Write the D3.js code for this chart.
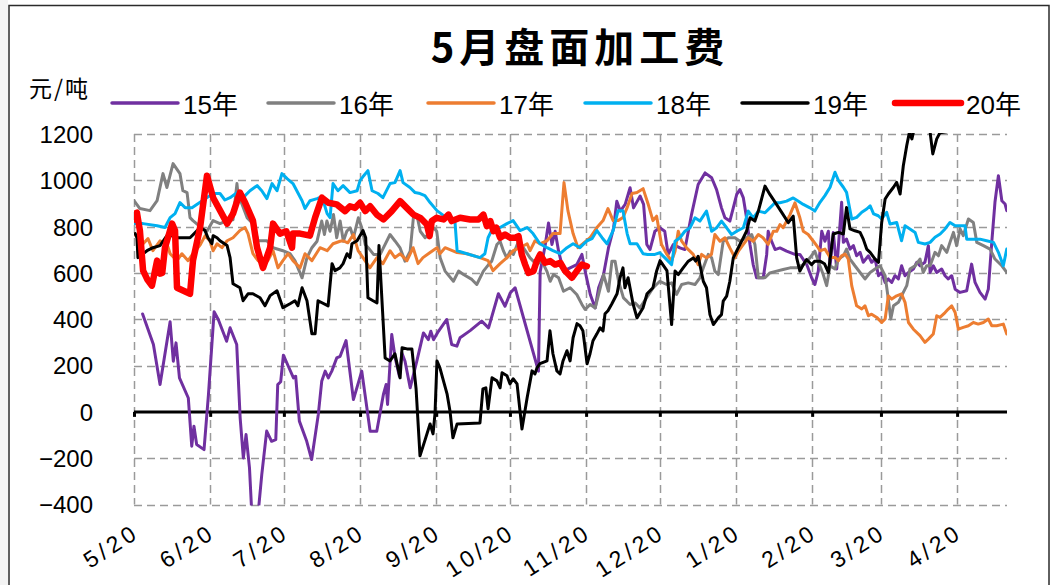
<!DOCTYPE html>
<html>
<head>
<meta charset="utf-8">
<script src="https://cdn.jsdelivr.net/npm/d3@7"></script>
<style>
  html, body { margin: 0; padding: 0; background: #fff; }
  svg { display: block; }
  text { font-family: "Liberation Sans", "Noto Sans CJK SC", sans-serif; fill: #000; }
</style>
</head>
<body>
<svg id="chart" width="1051" height="585"></svg>
<script>
// 5月合约盘面加工费（元/吨），按年度对比；横轴为距 5/20 的天数
const seriesNames = ["15年", "16年", "17年", "18年", "19年", "20年"];
const seriesColors = ["#7030A0", "#808080", "#ED7D31", "#00B0F0", "#000000", "#FF0000"];
const seriesWidths = [3, 3, 3, 3, 3, 6.5];
const xTickLabels = ["5/20", "6/20", "7/20", "8/20", "9/20", "10/20", "11/20", "12/20", "1/20", "2/20", "3/20", "4/20"];
const yTicks = [-400, -200, 0, 200, 400, 600, 800, 1000, 1200];

const s15 = [[3.5,423],[7.9,291],[10.6,118],[14.7,389],[16,219],[17.1,298],[18.5,147],[22.1,60],[23.5,-148],[24.4,-62],[25.5,-141],[28.5,-163],[30.3,75],[32.6,432],[34.3,399],[37.7,305],[39.1,363],[41.8,291],[43.2,-26],[44.5,-199],[45.6,-98],[47,-242],[47.9,-430],[50.6,-430],[52,-271],[54,-83],[56,-127],[57.7,-120],[58.5,118],[59.7,130],[60.8,245],[62.8,197],[64.9,147],[65.8,154],[67.3,-40],[70.3,-127],[72.3,-206],[75,-12],[76.4,132],[77.8,176],[79.1,147],[80.5,176],[82.5,233],[83.9,240],[86.3,308],[89.3,53],[92.7,176],[96.1,-84],[98.8,-84],[101.5,75],[102.6,118],[103.2,32],[104.9,334],[106.3,233],[108,154],[109,255],[110.3,219],[112.4,104],[115.1,219],[117.8,341],[119.8,312],[120.8,348],[121.9,312],[123.9,348],[127.3,399],[129.3,291],[131.4,284],[132.7,320],[136.8,351],[141.5,392],[144.3,363],[148.3,510],[151,456],[153.1,513],[155.1,536],[164.6,176],[165.3,605],[167.3,716],[168.7,816],[170.1,723],[171.4,780],[172.8,694],[174.8,608],[177.5,622],[180.2,636],[182.3,680],[183.6,608],[185.7,507],[187.7,449],[189.1,536],[191.1,593],[193.1,708],[195.2,795],[196.5,910],[197.9,867],[199.9,896],[201.9,968],[203.3,881],[206,932],[207.4,896],[208.7,723],[210,701],[212,780],[214,795],[216,780],[217.4,680],[219.5,723],[222.2,708],[224.2,701],[226.9,852],[229.6,982],[232.4,1032],[235.1,1011],[237.1,960],[239.1,881],[240.5,838],[242.5,824],[243.9,881],[245.3,939],[246.6,960],[248,924],[249.3,838],[250.7,723],[252,636],[253.4,579],[256.1,579],[257.5,680],[258.1,780],[259.5,737],[260.9,701],[262.9,708],[265.6,694],[269,680],[271,680],[273.8,636],[275.8,579],[277.1,550],[278.5,608],[279.9,780],[281.2,737],[282.6,780],[283.3,631],[284.6,775],[286,617],[288,905],[288.7,732],[290,746],[291.4,703],[292.8,718],[294.1,674],[295.5,689],[296.8,646],[298.9,674],[300.2,646],[301.6,660],[303,588],[304.3,602],[305.7,559],[307,574],[308.4,559],[309.7,588],[311.1,574],[312.4,631],[313.8,588],[315.2,602],[317.2,617],[318.6,646],[319.9,631],[321.9,646],[323.3,718],[324,602],[325.3,631],[326.7,602],[328.7,617],[330.1,588],[331.4,574],[332.8,588],[334.2,530],[336.2,516],[338.9,523],[340.9,638],[342.3,559],[344.3,516],[346.4,487],[347.7,530],[349.1,732],[350.4,905],[351.8,1020],[353.2,912],[354.5,898],[355.2,869]];

const s16 = [[0,912],[2.4,878],[6.5,869],[9.4,912],[11.8,1029],[13.4,969],[15.9,1072],[18.7,1029],[19.9,955],[21.6,947],[22.8,839],[24,826],[26.9,800],[29.7,780],[32.2,826],[35,813],[37.9,826],[40.3,830],[41.9,986],[42.3,943],[46,839],[48.4,813],[50.5,739],[54.1,739],[56.6,709],[60.6,696],[63.5,683],[65.5,653],[68.4,579],[70.4,666],[72.4,709],[74.5,737],[76.4,824],[77.5,766],[78.5,824],[79.8,780],[81.2,852],[82.5,752],[83.9,824],[85.2,737],[86.6,780],[88,795],[89.3,752],[91.3,838],[92.7,795],[94.1,723],[95.4,708],[97.5,680],[100.2,680],[101.5,708],[104.2,766],[106.3,737],[108.3,708],[110.3,651],[112.4,694],[113.7,838],[115.1,852],[116.5,780],[118.5,752],[121.9,795],[123.2,780],[124.6,665],[126.6,608],[130,564],[132.1,608],[134.1,593],[137.5,572],[139.5,550],[142.2,608],[144.3,636],[145.6,651],[147.7,723],[149,737],[150.4,694],[151.7,665],[153.1,694],[154.4,680],[156.5,737],[158.5,708],[161.2,665],[163.9,636],[166,651],[168,608],[169.4,564],[170.7,593],[172.8,579],[174.8,521],[177.5,536],[180.2,507],[182.3,464],[183.6,442],[185.7,464],[187.7,449],[189.1,507],[191.1,593],[193.1,521],[194.5,651],[195.8,651],[197.2,564],[199.2,492],[200.6,478],[201.9,464],[204,470],[205.9,449],[208.6,492],[211.3,536],[214,564],[216.8,550],[218.8,557],[220.8,507],[222.9,550],[225.6,557],[228.3,550],[230.3,579],[231.7,622],[233.7,680],[235.1,665],[236.4,608],[237.8,593],[239.8,737],[241.9,752],[244.6,752],[246.6,737],[249.3,752],[251.4,766],[252.7,723],[254.1,579],[256.8,579],[258.8,600],[261.5,608],[264.2,615],[267,622],[269.7,622],[272.4,636],[275.1,665],[277.1,694],[279.2,630],[280.5,593],[281.9,545],[283.3,631],[285.3,617],[286.7,660],[288.7,674],[290,703],[291.4,660],[293.4,631],[295.5,602],[297.5,574],[299.6,602],[301.6,617],[303.6,631],[305.7,588],[307,487],[308,401],[309.1,458],[311.1,473],[313.1,516],[314.5,545],[315.8,617],[317.9,631],[319.9,660],[321.2,602],[322.6,631],[324,631],[326,689],[327.4,674],[328.7,718],[330.8,689],[332.1,732],[333.5,775],[334.8,718],[336.2,790],[337.5,761],[339.6,833],[341.6,818],[343,732],[345.7,718],[348.4,703],[350.4,660],[353.2,631],[355.2,602]];

const s17 = [[0,770],[3.7,726],[5.7,748],[7.7,696],[10.6,739],[13.4,726],[14.7,683],[17.5,653],[19.5,683],[22,653],[24,683],[26.9,720],[28.9,760],[30.9,739],[32.2,696],[33.8,726],[35.8,709],[37.9,739],[40.3,752],[43.1,783],[45.2,796],[46.4,770],[48.4,683],[50.5,653],[52.5,640],[54.5,653],[56.6,696],[58.6,622],[60.6,653],[62.7,683],[64.7,653],[67.6,622],[69.6,683],[72.4,653],[75.7,709],[78.6,696],[81,726],[83.9,737],[85.1,739],[87,730],[89.3,766],[91.2,696],[93.2,666],[96,622],[98.9,666],[101.3,640],[104.2,696],[106.2,666],[108.3,683],[111.1,653],[113.6,709],[115.6,640],[117.6,666],[120.5,688],[123.3,709],[124.5,683],[126.6,709],[131.5,688],[135.5,683],[140.8,666],[144.1,653],[146.1,610],[149,640],[151.8,666],[154.3,696],[157.1,709],[160,726],[161.2,696],[163.2,739],[165.2,726],[168.1,739],[170.5,770],[173.4,770],[175,990],[176.6,869],[178.7,770],[180.7,709],[182.7,726],[185.6,752],[188.4,796],[190.9,826],[192.9,878],[195,826],[197,826],[199,839],[200.7,882],[202.7,943],[204.7,947],[207.2,964],[209.2,899],[211.2,826],[212.7,845],[214.7,723],[216.9,680],[218.8,651],[220.2,694],[221.5,780],[222.9,737],[224.9,708],[227.6,680],[229.6,636],[231,680],[233,665],[235,680],[236.4,766],[238.5,737],[240.5,752],[242.5,708],[244.6,665],[246,694],[248,723],[250,752],[252,737],[254.1,766],[256,752],[258.1,723],[260.2,780],[261.6,780],[262.9,809],[264.2,795],[265.6,824],[267,852],[269,903],[271,838],[272.4,780],[274.4,766],[276.5,737],[278.5,708],[279.2,696],[281.2,703],[283.3,667],[285.3,667],[286.7,653],[288,674],[289.4,682],[290.7,660],[292.1,545],[294.1,458],[296.2,444],[297.5,458],[298.9,415],[300.2,422],[302.3,408],[304.3,386],[305.7,401],[307,501],[308.4,487],[310.4,501],[312.4,509],[313.8,473],[315.2,386],[317.2,357],[319.9,329],[321.9,300],[323.3,314],[325.3,336],[326.7,415],[328,408],[330.1,429],[331.4,444],[332.8,458],[334.2,429],[335.5,357],[337.5,365],[339.6,372],[341.6,386],[343.6,379],[345.7,386],[347.7,401],[349.1,372],[351.1,372],[353.8,379],[355.2,336]];

const s18 = [[0,813],[3.7,813],[9.4,804],[12.6,796],[14.7,839],[16.7,856],[18.7,904],[20.8,882],[23.6,882],[26,899],[29,920],[32.2,943],[35,943],[37,915],[39.1,925],[41.9,947],[44.4,925],[47.2,955],[50.1,977],[52,955],[54.1,921],[56.2,986],[58.2,955],[60.2,1029],[62.3,1007],[64.7,986],[68.4,912],[69.6,878],[71.6,912],[74.5,921],[76.5,930],[78.6,856],[79.8,839],[81,986],[83,955],[85.1,977],[87.9,947],[90.8,955],[92,999],[93.5,1020],[95.2,1042],[96.9,955],[99.3,943],[101.3,925],[104.2,986],[106.2,990],[108.3,1042],[109.5,990],[112.3,969],[114.4,947],[116.4,943],[118.4,934],[120.5,904],[123.3,869],[127,840],[130.6,826],[131.5,696],[135.5,683],[140.8,666],[142.8,683],[144.1,752],[146.1,796],[149,796],[151.8,813],[154.3,826],[157.1,783],[160,796],[162.4,770],[165.2,726],[168.1,709],[170.5,696],[173.4,683],[176.2,709],[178.7,726],[181.5,709],[184.4,739],[186.4,748],[188.4,783],[190.5,752],[192.5,726],[195,783],[197,869],[199,869],[200.7,770],[201.9,726],[204.7,726],[207.2,683],[209,680],[212,680],[214,687],[216.1,665],[218.8,636],[220.2,737],[222.2,752],[224.2,780],[226.3,795],[228.3,838],[230.3,824],[233,867],[235.1,780],[237.1,795],[239.1,824],[241.2,795],[243.2,766],[245.3,780],[248,795],[250,867],[252,838],[254.1,867],[256.8,860],[258.8,881],[260.9,903],[262.9,903],[265.6,910],[268.3,924],[270.4,910],[272.4,896],[275.1,881],[277.1,867],[279.2,905],[281.2,934],[283.3,970],[285.3,1035],[286.7,999],[288.7,970],[290,948],[292.1,833],[294.1,840],[296.2,862],[298.2,876],[299.6,890],[301,855],[302.9,847],[304.3,833],[306.3,862],[307.7,811],[310.4,818],[312.4,739],[313.8,804],[315.8,790],[317.9,775],[319.2,732],[321.9,725],[324,732],[326,754],[328.1,768],[330.1,790],[332.1,818],[334.2,804],[336.2,804],[338.2,804],[338.9,746],[341.6,746],[344.3,746],[347,739],[349.8,732],[351.8,689],[353.8,631],[355.2,703]];

const s19 = [[0.5,770],[1.2,752],[1.6,666],[5.3,696],[7.7,709],[10.6,718],[13.4,761],[15.9,761],[17.9,752],[20.8,752],[22.8,752],[24.5,770],[26.9,796],[28.9,783],[30.1,752],[31.7,726],[32.2,761],[33.8,752],[35,739],[37.9,718],[39.1,666],[40.3,553],[43.1,536],[44.4,480],[46.4,510],[48.4,510],[51.3,493],[53.3,458],[55.4,502],[58.2,523],[60.6,450],[63.5,467],[65.5,480],[66.7,458],[68.4,536],[70.4,480],[72.4,337],[73.7,337],[74.9,480],[79,458],[80.6,640],[81.8,610],[83.8,622],[85.1,640],[86.7,683],[87.9,666],[88.7,726],[90.8,739],[93.2,783],[94.3,752],[95.2,493],[97.3,480],[98.9,471],[99.7,718],[102.2,233],[104.2,220],[106.2,251],[108.3,147],[109.1,277],[111.1,272],[113.1,272],[114.8,100],[116.4,-190],[118.5,-120],[120.5,-52],[121.7,-95],[122.5,-9],[123.3,220],[124.5,190],[127.4,78],[128.6,4],[129.8,-112],[131.5,-52],[140.8,-48],[142,99],[143.2,104],[144.1,13],[145.7,147],[147.7,134],[149,104],[149.8,169],[151.8,156],[153,121],[154.3,143],[155.9,121],[157.9,-74],[160,61],[162,177],[163.2,164],[164,190],[165.2,208],[168.1,220],[169.3,350],[170.5,251],[172.1,177],[173.4,164],[174.6,220],[176.2,264],[177.5,220],[178.7,320],[180.3,381],[181.5,372],[182.7,350],[184.4,208],[185.6,251],[186.8,307],[188.4,337],[189.7,363],[190.9,350],[191.7,424],[192.9,437],[194.5,467],[196.6,510],[197.8,579],[199,622],[199.8,536],[201.1,579],[203.1,467],[204.7,406],[207.2,450],[208.8,510],[211.2,536],[212.7,608],[214.1,653],[216.9,610],[218.8,377],[220.2,608],[221.5,593],[223.5,622],[225.6,651],[227.6,665],[228.6,651],[229.6,672],[231.7,564],[233,536],[234.4,420],[235.8,377],[237.8,406],[239.1,420],[239.8,478],[241.2,500],[242.5,564],[243.9,665],[245.9,708],[248,752],[249.3,780],[250.7,838],[252.7,824],[254.1,867],[256.8,975],[258.8,939],[261.5,896],[264.2,852],[266.3,817],[268.3,845],[269.7,665],[271,608],[272.4,636],[273.7,658],[275.8,636],[277.1,651],[279.2,651],[281,640],[282.6,602],[284.6,768],[286.7,775],[288.7,768],[290,883],[291.4,790],[293.4,782],[295.5,775],[296.8,746],[298.2,703],[299.6,689],[301.6,660],[303,646],[304.3,818],[305.7,919],[307,941],[309.1,970],[310.4,991],[311.8,941],[313.1,1063],[314.5,1150],[315.6,1208],[316.6,1179],[317.9,1240],[320,1300],[322.6,1260],[324,1208],[325.1,1114],[326.7,1179],[328,1205],[330.8,1210]];

const s20 = [[0,830],[0.4,856],[1.2,860],[2.4,783],[3.7,610],[5.5,570],[7.3,545],[9.4,653],[10.6,597],[11.5,600],[12.6,709],[15.5,813],[16.7,783],[17.5,536],[22.8,510],[24,653],[26.9,796],[29.7,1020],[32.2,925],[35,870],[37.9,813],[40.3,856],[43.1,947],[45.2,904],[48.4,826],[50.1,709],[52.5,622],[55.4,709],[56.6,813],[59.4,770],[62,780],[64.3,709],[64.7,770],[67.6,770],[71.6,761],[73.7,839],[76.5,925],[79.1,903],[82.5,896],[85.9,867],[87.9,888],[90,881],[92,903],[94.1,867],[96.1,888],[98.8,852],[101.5,831],[104.9,867],[108.3,910],[111,881],[113.7,852],[116.5,838],[119.2,809],[120.3,759],[121.2,824],[123.2,838],[126,831],[128,852],[129.3,824],[132.7,838],[136.8,831],[140.2,831],[142.2,852],[143.6,802],[145,824],[146.3,780],[147.5,795],[149,752],[151,766],[153.1,752],[155.1,752],[156.5,759],[157.8,680],[159.2,636],[160.5,600],[162.6,608],[163.9,651],[165.3,680],[167.3,644],[169.4,651],[171.4,636],[173.5,644],[175.5,608],[178.2,579],[180.2,608],[182.3,636],[184.3,629]];

const seriesData = [s15, s16, s17, s18, s19, s20];

// ---- layout ----
const svg = d3.select("#chart");
const plot = { left: 134, right: 1007, top: 134, bottom: 504.5 };
const DAY = 864e5;
const base = Date.UTC(2018, 4, 20);
const toDate = d => new Date(base + d * DAY);

const x = d3.scaleUtc()
  .domain([toDate(0), toDate(355.3)])
  .range([plot.left, plot.right]);
const y = d3.scaleLinear().domain([-400, 1200]).range([plot.bottom, plot.top]);

const tickDates = xTickLabels.map(s => {
  const [m, d] = s.split("/").map(Number);
  return new Date(Date.UTC(m >= 5 ? 2018 : 2019, m - 1, d));
});

// frame
svg.append("rect").attr("x", 0).attr("y", 0).attr("width", 1051).attr("height", 585).attr("fill", "#fff");
svg.append("rect").attr("x", 0).attr("y", 0).attr("width", 8).attr("height", 585).attr("fill", "#f3f3f3");
svg.append("rect").attr("x", 9).attr("y", 5.5).attr("width", 1040).attr("height", 600)
  .attr("fill", "#fff").attr("stroke", "#2b2b2b").attr("stroke-width", 1.5);

// title
svg.append("text").attr("x", 580).attr("y", 62).attr("text-anchor", "middle")
  .style("font-family", "'Noto Sans CJK SC', sans-serif")
  .style("font-size", "40px").style("font-weight", 700).style("letter-spacing", "5px")
  .text("5月盘面加工费");

// unit
svg.append("text").attr("x", 29).attr("y", 97)
  .style("font-family", "'Noto Sans CJK SC', sans-serif")
  .style("font-size", "23px").style("letter-spacing", "2px").text("元/吨");

// legend
const legendX = [112, 268, 428, 585, 742, 895];
const legend = svg.append("g");
seriesNames.forEach((name, i) => {
  const g = legend.append("g").attr("transform", `translate(${legendX[i]},103)`);
  g.append("line").attr("x1", 0).attr("x2", 66).attr("y1", 0).attr("y2", 0)
    .attr("stroke", seriesColors[i]).attr("stroke-width", i === 5 ? 6.5 : 3.5)
    .attr("stroke-linecap", "round");
  g.append("text").attr("x", 71).attr("y", 11)
    .style("font-size", "26px").text(name);
});

// gridlines
const grid = svg.append("g").attr("stroke", "#9a9a9a").attr("stroke-width", 1.5)
  .attr("stroke-dasharray", "8,5").attr("fill", "none");
yTicks.filter(v => v !== 0).forEach(v => {
  grid.append("line").attr("x1", plot.left).attr("x2", plot.right)
    .attr("y1", Math.round(y(v)) + 0.5).attr("y2", Math.round(y(v)) + 0.5);
});
tickDates.forEach(d => {
  grid.append("line").attr("x1", Math.round(x(d)) + 0.5).attr("x2", Math.round(x(d)) + 0.5)
    .attr("y1", plot.top).attr("y2", plot.bottom);
});

// y axis labels
const yAxis = d3.axisLeft(y).tickValues(yTicks).tickSize(0).tickPadding(0)
  .tickFormat(d => d < 0 ? "\u2212" + Math.abs(d) : String(d));
const yg = svg.append("g").attr("transform", "translate(93,0)").call(yAxis);
yg.select(".domain").remove();
yg.selectAll("text").style("font-size", "24px").style("font-family", "'Liberation Sans', sans-serif")
  .attr("fill", "#000").attr("dy", "0.35em");

// zero line with month ticks
const y0 = y(0);
const xAxis = d3.axisBottom(x).tickValues(tickDates).tickSize(5).tickFormat(() => "");
const xg = svg.append("g").attr("transform", `translate(0,${y0})`).call(xAxis);
xg.select(".domain").attr("stroke", "#000").attr("stroke-width", 3)
  .attr("d", `M${plot.left},0H${plot.right}`);
xg.selectAll(".tick line").attr("stroke", "#000").attr("stroke-width", 3);

// x tick labels, rotated
svg.append("g").selectAll("text").data(tickDates).join("text")
  .attr("transform", (d) => `translate(${x(d) + 7},536) rotate(-33)`)
  .attr("text-anchor", "end")
  .style("font-size", "23px").style("letter-spacing", "4px")
  .text((d, i) => xTickLabels[i]);

// series lines
svg.append("clipPath").attr("id", "plotClip").append("rect")
  .attr("x", plot.left).attr("y", plot.top - 1)
  .attr("width", plot.right - plot.left).attr("height", plot.bottom - plot.top + 2);

const line = d3.line().x(p => x(toDate(p[0]))).y(p => y(p[1]));
const lines = svg.append("g").attr("clip-path", "url(#plotClip)");
seriesData.forEach((data, i) => {
  lines.append("path").datum(data)
    .attr("d", line)
    .attr("fill", "none")
    .attr("stroke", seriesColors[i])
    .attr("stroke-width", seriesWidths[i])
    .attr("stroke-linejoin", "round")
    .attr("stroke-linecap", "round");
});
</script>
</body>
</html>
